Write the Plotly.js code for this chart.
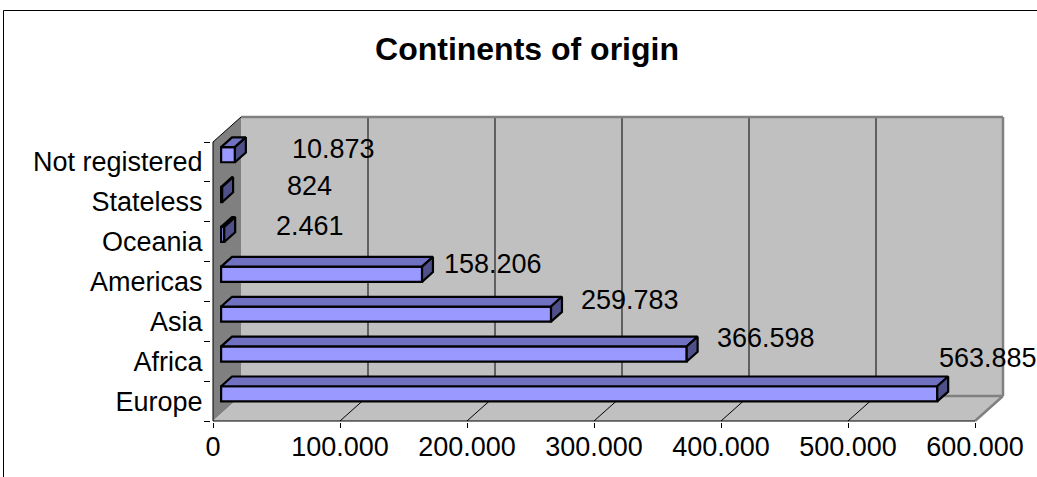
<!DOCTYPE html>
<html>
<head>
<meta charset="utf-8">
<script src="https://cdn.plot.ly/plotly-3.0.1.min.js"></script>
<style>
  html, body { margin: 0; padding: 0; background: #ffffff; }
  #chart { width: 1037px; height: 477px; }
</style>
</head>
<body>
<div id="chart"></div>
<script>
// ---- data ----
const categories = ["Europe", "Africa", "Asia", "Americas", "Oceania", "Stateless", "Not registered"];
const values = [563885, 366598, 259783, 158206, 2461, 824, 10873];
const xTickValues = [0, 100000, 200000, 300000, 400000, 500000, 600000];
const chartTitle = "Continents of origin";

// ---- presentation ----
const FONT = "Liberation Sans, Arial, Helvetica, sans-serif";
const FS = 27;
const DX = 22047;      // full depth offset in x data units
const DY = 0.6272;     // full depth offset in category units
const F1 = 0.29, F2 = 0.68;  // bar front / back depth fractions
const BH = 0.38;       // bar thickness (category units)
const labelXShift = [59, 87, 87, 79, 94, 95, 107];
const labelYShift = [43, 23, 21, 18, 16, 16, 13];

function fmt(v) { return String(v).replace(/\B(?=(\d{3})+(?!\d))/g, "."); }

const idx = categories.map((_, i) => i);
const XMAX = xTickValues[xTickValues.length - 1];

// bar front faces
const barTrace = {
  type: "bar", orientation: "h",
  y: idx.map(i => i + F1 * DY),
  x: values,
  base: F1 * DX,
  width: BH,
  marker: { color: "#9999ff", line: { color: "#000000", width: 2.2 } },
  hoverinfo: "skip", showlegend: false
};

// top faces and right-side faces
const topX = [], topY = [], sideX = [], sideY = [];
values.forEach((v, i) => {
  const yt1 = i + F1 * DY + BH / 2, yt2 = i + F2 * DY + BH / 2;
  const x0 = F1 * DX, x1 = v + F1 * DX, x0b = F2 * DX, x1b = v + F2 * DX;
  topX.push(x0, x1, x1b, x0b, x0, null);
  topY.push(yt1, yt1, yt2, yt2, yt1, null);
  sideX.push(x1, x1, x1b, x1b, x1, null);
  sideY.push(yt1 - BH, yt1, yt2, yt2 - BH, yt1 - BH, null);
});
const topTrace = {
  type: "scatter", mode: "lines", x: topX, y: topY, fill: "toself",
  fillcolor: "#7171c2", line: { color: "#000000", width: 2.2 },
  hoverinfo: "skip", showlegend: false
};
const sideTrace = {
  type: "scatter", mode: "lines", x: sideX, y: sideY, fill: "toself",
  fillcolor: "#4f4f8a", line: { color: "#000000", width: 2.2 },
  hoverinfo: "skip", showlegend: false
};

// ---- 3D box decoration ----
const shapes = [];
const yB = -0.5, yT = categories.length - 0.5;
// back wall
shapes.push({ type: "rect", layer: "below", xref: "x", yref: "y",
  x0: DX, x1: XMAX + DX, y0: yB + DY, y1: yT + DY,
  fillcolor: "#c0c0c0", line: { width: 0 } });
// left wall
shapes.push({ type: "path", layer: "below", xref: "x", yref: "y",
  path: `M0,${yB} L0,${yT} L${DX},${yT + DY} L${DX},${yB + DY} Z`,
  fillcolor: "#808080", line: { width: 0 } });
// floor
shapes.push({ type: "path", layer: "below", xref: "x", yref: "y",
  path: `M0,${yB} L${XMAX},${yB} L${XMAX + DX},${yB + DY} L${DX},${yB + DY} Z`,
  fillcolor: "#c0c0c0", line: { width: 0 } });
// grid lines on back wall and floor
xTickValues.slice(1, -1).forEach(t => {
  shapes.push({ type: "line", layer: "below", xref: "x", yref: "y",
    x0: t + DX, x1: t + DX, y0: yB + DY, y1: yT + DY, line: { color: "#000000", width: 1 } });
  shapes.push({ type: "line", layer: "below", xref: "x", yref: "y",
    x0: t, x1: t + DX, y0: yB, y1: yB + DY, line: { color: "#000000", width: 1 } });
});
// grey edges
const GREY = "#808080";
shapes.push({ type: "line", layer: "below", xref: "x", yref: "y",
  x0: DX, x1: XMAX + DX, y0: yT + DY, y1: yT + DY, line: { color: GREY, width: 2.5 } });
shapes.push({ type: "line", layer: "below", xref: "x", yref: "y",
  x0: XMAX + DX, x1: XMAX + DX, y0: yB + DY, y1: yT + DY, line: { color: GREY, width: 2.5 } });
shapes.push({ type: "line", layer: "below", xref: "x", yref: "y",
  x0: DX, x1: XMAX + DX, y0: yB + DY, y1: yB + DY, line: { color: GREY, width: 2.5 } });
shapes.push({ type: "line", layer: "below", xref: "x", yref: "y",
  x0: XMAX, x1: XMAX + DX, y0: yB, y1: yB + DY, line: { color: GREY, width: 2.5 } });
// left wall top edge
shapes.push({ type: "line", layer: "below", xref: "x", yref: "y",
  x0: 0, x1: DX, y0: yT, y1: yT + DY, line: { color: "#000000", width: 1 } });
// axis lines (front)
shapes.push({ type: "line", layer: "below", xref: "x", yref: "y",
  x0: 0, x1: 0, y0: yB, y1: yT, line: { color: "#000000", width: 1 } });
shapes.push({ type: "line", layer: "below", xref: "x", yref: "y",
  x0: 0, x1: XMAX, y0: yB, y1: yB, line: { color: "#000000", width: 1 } });
// chart border
shapes.push({ type: "rect", layer: "above", xref: "paper", yref: "paper",
  x0: (3.5 - 211) / 794, x1: 2, y0: -1, y1: (422 - 10.5) / 307, fillcolor: "rgba(0,0,0,0)",
  line: { color: "#000000", width: 1 } });

// data labels
const annotations = values.map((v, i) => ({
  xref: "x", yref: "y", x: v, y: i, text: fmt(v), showarrow: false,
  xanchor: "center", yanchor: "middle",
  xshift: labelXShift[i], yshift: labelYShift[i],
  font: { family: FONT, size: FS, color: "#000000" }
}));

// plot area: left 211, right 1005, top 115, bottom 422
const pxPerX = 762 / 600000;
const pxPerY = 279 / 7;
const xr = [-2 / pxPerX, (1005 - 213) / pxPerX];
const yr = [-0.5 - 1 / pxPerY, 6.5 + 27 / pxPerY];

const layout = {
  width: 1037, height: 477,
  margin: { l: 211, r: 32, t: 115, b: 55, pad: 0 },
  paper_bgcolor: "#ffffff", plot_bgcolor: "rgba(0,0,0,0)",
  showlegend: false,
  font: { family: FONT, size: FS, color: "#000000" },
  title: { text: "<b>" + chartTitle + "</b>", font: { family: FONT, size: 32, color: "#000000" },
    x: 527 / 1037, xanchor: "center", xref: "container",
    y: 1 - 48.5 / 477, yanchor: "middle", yref: "container" },
  xaxis: {
    range: xr, showgrid: false, zeroline: false, showline: false,
    tickmode: "array", tickvals: xTickValues, ticktext: xTickValues.map(fmt),
    ticks: "outside", ticklen: 5, tickcolor: "#000000", tickwidth: 1,
    ticklabelstandoff: -4,
    tickfont: { family: FONT, size: FS, color: "#000000" }, fixedrange: true
  },
  yaxis: {
    range: yr, showgrid: false, zeroline: false, showline: false,
    tickmode: "array", tickvals: idx, ticktext: categories,
    ticks: "outside", ticklen: 2, tickcolor: "rgba(0,0,0,0)",
    tickfont: { family: FONT, size: FS, color: "#000000" }, fixedrange: true
  },
  yaxis2: {
    overlaying: "y", side: "left", range: yr, showgrid: false, zeroline: false, showline: false,
    tickmode: "array", tickvals: idx.concat([categories.length]).map(i => i - 0.5),
    showticklabels: false, ticks: "outside", ticklen: 6, tickcolor: "#000000", tickwidth: 1,
    fixedrange: true
  },
  shapes: shapes,
  annotations: annotations,
  bargap: 0
};

const dummy = { type: "scatter", mode: "none", x: [0], y: [0], yaxis: "y2", hoverinfo: "skip", showlegend: false };

Plotly.newPlot("chart", [barTrace, topTrace, sideTrace, dummy], layout, { staticPlot: true, displayModeBar: false });
</script>
</body>
</html>
